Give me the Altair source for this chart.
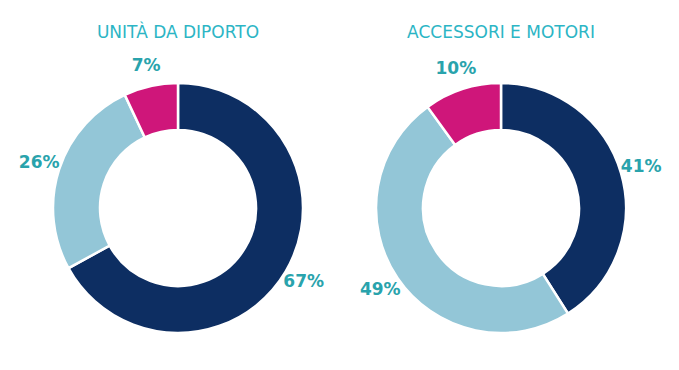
import altair as alt
import pandas as pd

panels = ["UNITÀ DA DIPORTO", "ACCESSORI E MOTORI"]
segments = ["Segmento 1", "Segmento 2", "Segmento 3"]
shares_unita = [67, 26, 7]
shares_accessori = [41, 49, 10]
colors = ["#0d2e62", "#93c6d7", "#cf167a"]

rows = []
for p, vals in zip(panels, [shares_unita, shares_accessori]):
    for i, (s, v) in enumerate(zip(segments, vals)):
        rows.append({"panel": p, "segment": s, "rank": i, "value": v, "label": f"{v}%"})
df = pd.DataFrame(rows)

base = alt.Chart().encode(
    theta=alt.Theta("value:Q", stack=True),
    order=alt.Order("rank:Q"),
)
arc = base.mark_arc(outerRadius=125, innerRadius=78, stroke="white", strokeWidth=2.5).encode(
    color=alt.Color("segment:N", scale=alt.Scale(domain=segments, range=colors), legend=None)
)
text = base.mark_text(radius=146, font="DejaVu Sans", fontWeight="bold", fontSize=17,
                      color="#29a3ac").encode(text="label:N")

chart = alt.layer(arc, text, data=df).properties(width=320, height=310).facet(
    column=alt.Column("panel:N", sort=panels,
                      header=alt.Header(title=None, labelFontSize=17, labelColor="#2cb5c5",
                                        labelFont="DejaVu Sans", labelPadding=11)),
    spacing=2,
).properties(
    padding={"left": 10, "top": 16, "right": 5, "bottom": 5}
).configure_view(stroke=None)

chart.save("out.html", embed_options={"renderer": "svg", "actions": False})
